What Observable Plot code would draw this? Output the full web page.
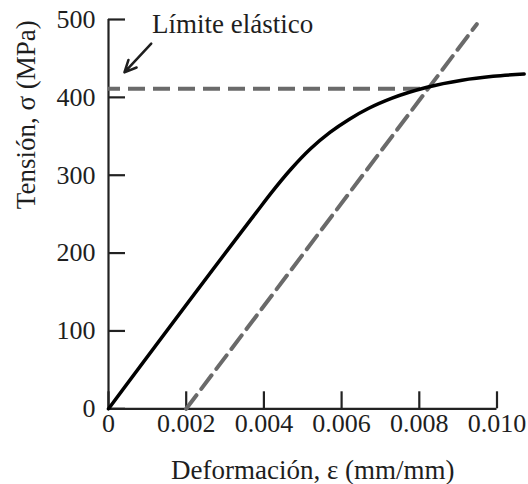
<!DOCTYPE html>
<html><head><meta charset="utf-8">
<script src="https://cdn.jsdelivr.net/npm/d3@7"></script>
<script src="https://cdn.jsdelivr.net/npm/@observablehq/plot@0.6"></script>
<style>html,body{margin:0;padding:0;background:#fff;}</style>
</head><body><div id="chart"></div>
<script>
// Stress–strain curve
const strain = [0, 0.0038, 0.0042, 0.0047, 0.0052, 0.0057, 0.0062, 0.0067, 0.0073, 0.0082, 0.0091, 0.0099, 0.0107];
const stress = [0, 252, 278, 308, 334, 355, 372, 386, 399, 413, 422, 427, 430];
// Yield stress line
const yieldStress = [411];
const yieldLineStrain = [0, 0.0082];
// 0.2% offset line
const offsetStrain = [0.002, 0.00948];
const offsetStress = [0, 494];
// Ticks
const xTicks = [0, 0.002, 0.004, 0.006, 0.008, 0.010];
const xTickLabels = ["0", "0.002", "0.004", "0.006", "0.008", "0.010"];
const yTicks = [0, 100, 200, 300, 400, 500];
const yTickLabels = ["0", "100", "200", "300", "400", "500"];
// Annotation
const annotationText = ["Límite elástico"];
const annotationStrain = [0.00112];
const annotationStress = [483];
const arrowStrain = [0.0011, 0.00041];
const arrowStress = [469, 432];
// Axis titles
const xTitle = "Deformación, ε (mm/mm)";
const yTitle = "Tensión, σ (MPa)";

const curve = strain.map((x, i) => ({x, y: stress[i]}));
const offsetLine = offsetStrain.map((x, i) => ({x, y: offsetStress[i]}));
const axisColor = "#222222";
const dashColor = "#6a6a6a";
const textColor = "#1e1e1e";

const W = 528, H = 484, ML = 108, MR = 31.5, MT = 19, MB = 75.7;
const frameW = W - ML - MR, frameH = H - MT - MB;
const xDomain = [xTicks[0], xTicks[xTicks.length - 1]];
const yDomain = [yTicks[0], yTicks[yTicks.length - 1]];
const tickLen = 17; // px
const xTickLenData = tickLen * (xDomain[1] - xDomain[0]) / frameW;
const yTickLenData = tickLen * (yDomain[1] - yDomain[0]) / frameH;

const chart = Plot.plot({
  width: W,
  height: H,
  marginLeft: ML,
  marginRight: MR,
  marginTop: MT,
  marginBottom: MB,
  style: {fontFamily: "'Liberation Serif', serif", fontSize: "26px", color: textColor, background: "#fff"},
  x: {domain: xDomain, axis: null},
  y: {domain: yDomain, axis: null},
  marks: [
    // inward tick marks
    Plot.ruleX(xTicks, {x: d => d, y1: yDomain[0], y2: yDomain[0] + yTickLenData, stroke: axisColor, strokeWidth: 2.2}),
    Plot.ruleY(yTicks, {y: d => d, x1: xDomain[0], x2: xDomain[0] + xTickLenData, stroke: axisColor, strokeWidth: 2.2}),
    // axis lines
    Plot.ruleY([yDomain[0]], {x1: xDomain[0], x2: xDomain[1], stroke: axisColor, strokeWidth: 2.2}),
    Plot.ruleX([xDomain[0]], {y1: yDomain[0], y2: yDomain[1], stroke: axisColor, strokeWidth: 2.2}),
    // tick labels
    Plot.text(xTicks, {x: d => d, y: yDomain[0], text: (d, i) => xTickLabels[i], lineAnchor: "top", dy: 5, fill: textColor, fontSize: 26}),
    Plot.text(yTicks, {x: xDomain[0], y: d => d, text: (d, i) => yTickLabels[i], textAnchor: "end", lineAnchor: "middle", dx: -13, fill: textColor, fontSize: 26}),
    // yield line
    Plot.ruleY(yieldStress, {x1: yieldLineStrain[0], x2: yieldLineStrain[1], stroke: dashColor, strokeWidth: 4, strokeDasharray: "17,8", strokeDashoffset: 5}),
    // offset line
    Plot.line(offsetLine, {x: "x", y: "y", stroke: dashColor, strokeWidth: 4, strokeDasharray: "17,8"}),
    // curve
    Plot.line(curve, {x: "x", y: "y", curve: "monotone-x", stroke: "#000", strokeWidth: 3.5}),
    // annotation
    Plot.text(annotationText, {x: annotationStrain, y: annotationStress, text: d => d, textAnchor: "start", lineAnchor: "bottom", fill: textColor, fontSize: 27}),
    Plot.arrow([0], {x1: arrowStrain[0], y1: arrowStress[0], x2: arrowStrain[1], y2: arrowStress[1], stroke: textColor, strokeWidth: 2.5, headLength: 12, headAngle: 50}),
    // axis titles
    Plot.text([xTitle], {frameAnchor: "bottom", text: d => d, dx: 10, dy: 70, lineAnchor: "bottom", fill: textColor, fontSize: 27}),
    Plot.text([yTitle], {frameAnchor: "left", text: d => d, rotate: -90, dx: -82, dy: -5, lineAnchor: "middle", fill: textColor, fontSize: 27})
  ]
});
document.getElementById("chart").appendChild(chart);
</script>
</body></html>
